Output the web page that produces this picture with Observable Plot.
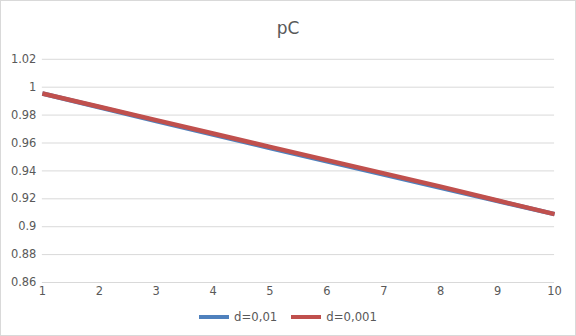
<!DOCTYPE html>
<html>
<head>
<meta charset="utf-8">
<script src="https://cdn.jsdelivr.net/npm/d3@7"></script>
<script src="https://cdn.jsdelivr.net/npm/@observablehq/plot@0.6"></script>
<style>
  body { margin: 0; background: #fff; }
  #chart { position: relative; width: 576px; height: 336px; box-sizing: border-box; border: 1px solid #d9d9d9; background: #fff; font-family: "DejaVu Sans", sans-serif; color: #595959; }
  #chart svg { position: absolute; left: -1px; top: -1px; }
  #title { position: absolute; left: 0; right: 0; top: 17px; text-align: center; font-size: 17px; color: #595959; }
  #legend { position: absolute; left: 0; right: 0; top: 309px; display: flex; justify-content: center; align-items: center; font-size: 11.7px; color: #595959; gap: 0; }
  .item { display: flex; align-items: center; margin: 0 7px; }
  .sw { width: 30px; height: 4px; margin-right: 5px; }
</style>
</head>
<body>
<div id="chart">
  <div id="title">pC</div>
  <div id="legend"></div>
</div>
<script>
const xs = [1, 2, 3, 4, 5, 6, 7, 8, 9, 10];
const seriesNames = ["d=0,01", "d=0,001"];
const seriesColors = ["#4F81BD", "#C0504D"];
const d01 = [0.9955, 0.9856, 0.9758, 0.9661, 0.9564, 0.9468, 0.9373, 0.9279, 0.9184, 0.9090];
const d001 = [0.9955, 0.9860, 0.9764, 0.9668, 0.9572, 0.9477, 0.9382, 0.9287, 0.9188, 0.9090];
const yTicks = [0.86, 0.88, 0.9, 0.92, 0.94, 0.96, 0.98, 1, 1.02];

const data = [];
[d01, d001].forEach((vals, si) => {
  vals.forEach((v, i) => data.push({x: xs[i], y: v, s: seriesNames[si]}));
});

const plot = Plot.plot({
  width: 576,
  height: 336,
  marginLeft: 42,
  marginRight: 20,
  marginTop: 59,
  marginBottom: 53,
  style: { fontFamily: "DejaVu Sans, sans-serif", fontSize: "11.5px", color: "#595959", background: "transparent" },
  x: { domain: [1, 10], ticks: xs, tickFormat: d => String(d), label: null, tickSize: 0, tickPadding: 4 },
  y: { domain: [0.86, 1.02], ticks: yTicks, tickFormat: d => String(+d.toFixed(2)), label: null, tickSize: 0, tickPadding: 6 },
  color: { domain: seriesNames, range: seriesColors },
  marks: [
    Plot.gridY(yTicks, { stroke: "#d9d9d9", strokeOpacity: 1, strokeWidth: 1 }),
    Plot.axisY({ ticks: yTicks, tickSize: 0, tickPadding: 6, tickFormat: d => String(+d.toFixed(2)), label: null, fill: "#595959" }),
    Plot.axisX({ ticks: xs, tickSize: 0, tickPadding: 4, label: null, fill: "#595959" }),
    Plot.line(data, { x: "x", y: "y", stroke: "s", z: "s", strokeWidth: 4.5, strokeLinecap: "butt", strokeLinejoin: "round" })
  ]
});
document.getElementById("chart").appendChild(plot);

const legend = document.getElementById("legend");
seriesNames.forEach((n, i) => {
  const it = document.createElement("div");
  it.className = "item";
  const sw = document.createElement("div");
  sw.className = "sw";
  sw.style.background = seriesColors[i];
  const t = document.createElement("span");
  t.textContent = n;
  it.appendChild(sw);
  it.appendChild(t);
  legend.appendChild(it);
});
</script>
</body>
</html>
